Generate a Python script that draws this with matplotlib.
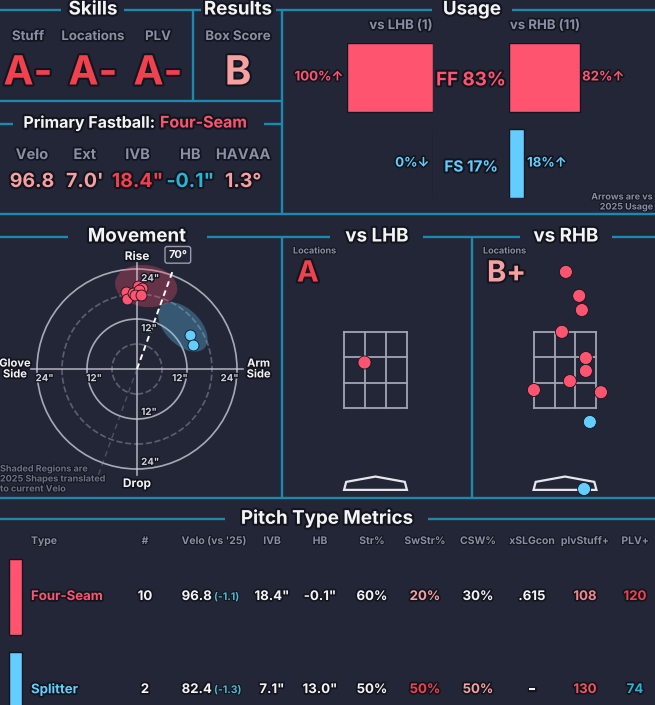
import numpy as np
import matplotlib
matplotlib.use('Agg')
import matplotlib.pyplot as plt
import matplotlib.patheffects as pe
from matplotlib.patches import Ellipse, Circle, Polygon, Rectangle

# ---------------- data ----------------
skill_labels = ['Stuff', 'Locations', 'PLV']
skill_grades = ['A-', 'A-', 'A-']
box_score = 'B'

fb_name = 'Four-Seam'
fb_labels = ['Velo', 'Ext', 'IVB', 'HB', 'HAVAA']
fb_values = ['96.8', "7.0'", '18.4"', '-0.1"', '1.3°']

pitch_codes = ['FF', 'FS']
usage_total = [83, 17]
usage_lhb = [100, 0]
usage_rhb = [82, 18]
arrows_lhb = ['↑', '↓']
arrows_rhb = ['↑', '↑']
n_lhb = 1
n_rhb = 11

# movement (inches)
ff_hb = [-2.6, -2.4, 0.2, 0.7, 0.0, -1.0, 1.2, 0.5, -0.5, 1.0]
ff_ivb = [18.5, 16.8, 19.9, 18.5, 18.2, 18.2, 19.4, 19.0, 17.8, 17.8]
fs_hb = [12.7, 13.4]
fs_ivb = [8.2, 5.8]
arm_angle = 70
shape_x = [2.2, 11.0]
shape_y = [19.9, 10.1]
shape_w = [15.0, 14.5]
shape_h = [10.0, 8.5]
shape_ang = [-8, -45]

# locations (feet)
loc_grades = ['A', 'B+']
lhb_x = [-0.26]
lhb_z = [2.63]
lhb_type = ['FF']
rhb_x = [0.02, 0.32, 0.38, -0.07, 0.47, 0.47, 0.11, -0.70, 0.81, 0.56, 0.43]
rhb_z = [4.66, 4.12, 3.80, 3.31, 2.72, 2.43, 2.20, 2.00, 1.95, 1.28, -0.23]
rhb_type = ['FF'] * 9 + ['FS'] * 2

# table
col_names = ['#', "Velo (vs '25)", 'IVB', 'HB', 'Str%', 'SwStr%', 'CSW%', 'xSLGcon', 'plvStuff+', 'PLV+']
row_names = ['Four-Seam', 'Splitter']
row_count = ['10', '2']
row_velo = ['96.8', '82.4']
row_velo_diff = ['(-1.1)', '(-1.3)']
row_ivb = ['18.4"', '7.1"']
row_hb = ['-0.1"', '13.0"']
row_str = ['60%', '50%']
row_swstr = ['20%', '50%']
row_csw = ['30%', '50%']
row_xslg = ['.615', '–']
row_stuff = ['108', '130']
row_plv = ['120', '74']

# ---------------- style ----------------
W, H = 655, 705
BG = '#232637'
DARK = '#13151e'
LINE = '#1b8aae'
RED = '#f2404f'
SALMON = '#f6a0a2'
FF_COL = '#ff5470'
FS_COL = '#63cdff'
TEAL = '#2bb3d6'
GRAY = '#8a8ea6'
WHITE = '#f4f4f6'
ptype_col = {'FF': FF_COL, 'FS': FS_COL}

plt.rcParams['font.family'] = ['Inter', 'DejaVu Sans']

fig = plt.figure(figsize=(W / 100, H / 100), dpi=100, facecolor=BG)
ax0 = fig.add_axes([0, 0, 1, 1])
ax0.set_xlim(0, W)
ax0.set_ylim(H, 0)
ax0.axis('off')


def px_axes(x0, y0, x1, y1):
    a = fig.add_axes([x0 / W, 1 - y1 / H, (x1 - x0) / W, (y1 - y0) / H])
    a.axis('off')
    a.patch.set_alpha(0)
    return a


def txt(ax, x, y, s, size, color, ha='center', stroke=2.5, weight='bold', **kw):
    return ax.text(x, y, s, fontsize=size, color=color, ha=ha, va='center', fontweight=weight,
                   path_effects=[pe.withStroke(linewidth=stroke, foreground=DARK)], **kw)


def hline(y, segs):
    for a, b in segs:
        ax0.plot([a, b], [y, y], color=LINE, lw=1.7, solid_capstyle='butt')


def vline(x, a, b):
    ax0.plot([x, x], [a, b], color=LINE, lw=1.7, solid_capstyle='butt')


# ---------------- frame ----------------
hline(10, [(0, 61), (124, 201), (276, 432), (512, W)])
hline(101, [(0, 282)])
hline(124, [(0, 13), (264, 282)])
hline(214, [(0, W)])
hline(237, [(0, 68), (207, 330), (423, 520), (612, W)])
hline(498, [(0, W)])
hline(519, [(0, 225), (428, W)])
vline(193, 10, 101)
vline(282, 10, 214)
vline(282, 237, 498)
vline(472, 237, 498)

# ---------------- skills / results ----------------
txt(ax0, 93, 10, 'Skills', 13.5, WHITE, stroke=3)
txt(ax0, 238, 10, 'Results', 13.5, WHITE, stroke=3)
for i, (lab, g) in enumerate(zip(skill_labels, skill_grades)):
    x = 28 + i * 65
    txt(ax0, x, 37, lab, 9.5, GRAY)
    txt(ax0, x, 74, g, 29, RED, stroke=3)
txt(ax0, 238, 37, 'Box Score', 9.5, GRAY)
txt(ax0, 238, 74, box_score, 29, SALMON, stroke=3)

# primary fastball
txt(ax0, 155, 123, 'Primary Fastball:', 11.5, WHITE, ha='right', stroke=3)
txt(ax0, 160, 123, fb_name, 11.5, FF_COL, ha='left', stroke=3)
fb_colors = [SALMON, SALMON, RED, TEAL, SALMON]
for i, (lab, v) in enumerate(zip(fb_labels, fb_values)):
    x = 32 + i * 52.8
    txt(ax0, x, 155, lab, 10.5, GRAY)
    txt(ax0, x, 182, v, 14, fb_colors[i], stroke=3)

# ---------------- usage ----------------
txt(ax0, 472, 10, 'Usage', 13.5, WHITE, stroke=3)
txt(ax0, 401, 26, f'vs LHB ({n_lhb})', 9.5, GRAY)
txt(ax0, 545, 26, f'vs RHB ({n_rhb})', 9.5, GRAY)

axl = px_axes(347, 43, 433, 198)
axr = px_axes(509, 43, 595, 198)
cols = [ptype_col[p] for p in pitch_codes]
axl.barh(range(len(pitch_codes)), usage_lhb, height=0.8, color=cols, edgecolor=DARK, lw=1)
axr.barh(range(len(pitch_codes)), usage_rhb, height=0.8, color=cols, edgecolor=DARK, lw=1)
for a in (axl, axr):
    a.set_ylim(1.4, -0.4)
axl.set_xlim(100, 0)
axr.set_xlim(0, 100)
mid = matplotlib.transforms.blended_transform_factory(ax0.transData, axl.transData)
for i, p in enumerate(pitch_codes):
    c = ptype_col[p]
    txt(axl, usage_lhb[i] + 4, i, f'{usage_lhb[i]}%{arrows_lhb[i]}', 9.5, c, ha='right', clip_on=False)
    txt(axr, usage_rhb[i] + 3, i, f'{usage_rhb[i]}%{arrows_rhb[i]}', 9.5, c, ha='left', clip_on=False)
    fs = 13.5 if usage_total[i] > 50 else 11
    txt(ax0, 471, i + 0.04, f'{p} {usage_total[i]}%', fs, c, stroke=3, transform=mid)
txt(ax0, 653, 197, 'Arrows are vs', 6.5, GRAY, ha='right', stroke=1.5)
txt(ax0, 653, 207, '2025 Usage', 6.5, GRAY, ha='right', stroke=1.5)

# ---------------- movement ----------------
txt(ax0, 137, 237, 'Movement', 13.5, WHITE, stroke=3)
mv = px_axes(27, 259, 247, 479)
mv.set_xlim(-26.4, 26.4)
mv.set_ylim(-26.4, 26.4)
for r, ls, a in [(6, '--', 0.35), (12, '-', 0.8), (18, '--', 0.35), (24, '-', 0.8)]:
    mv.add_patch(Circle((0, 0), r, fill=False, ec='#c9cbd6', lw=1.2, ls=ls, alpha=a))
mv.plot([-25.5, 25.5], [0, 0], color='#c9cbd6', lw=1.2, alpha=0.8)
mv.plot([0, 0], [-25.5, 25.5], color='#c9cbd6', lw=1.2, alpha=0.8)
for i, p in enumerate(pitch_codes):
    mv.add_patch(Ellipse((shape_x[i], shape_y[i]), shape_w[i], shape_h[i], angle=shape_ang[i],
                         color=ptype_col[p], alpha=0.3, lw=0))
ang = np.radians(arm_angle)
mv.plot([0, 25 * np.cos(ang)], [0, 25 * np.sin(ang)], color='white', lw=1.4, ls=(0, (3, 2)))
mv.plot([0, -29.5 * np.cos(ang)], [0, -29.5 * np.sin(ang)], color='#8a8ea6', lw=1, ls=(0, (4, 3)), alpha=0.4)
mv.scatter(ff_hb, ff_ivb, s=62, color=FF_COL, edgecolor=DARK, lw=0.6, zorder=5)
mv.scatter(fs_hb, fs_ivb, s=62, color=FS_COL, edgecolor=DARK, lw=0.6, zorder=5)
for v in (-22.2, -10.3, 10.3, 22.2):
    txt(mv, v, -2.2, f'{abs(v) > 20 and 24 or 12}"', 7, '#d0d2dc', stroke=2)
for v, lab in [(21.8, 24), (9.8, 12), (-10.3, 12), (-22.3, 24)]:
    txt(mv, 1, v, f'{lab}"', 7, '#d0d2dc', ha='left', stroke=2)
txt(mv, 0, 26.9, 'Rise', 8.5, WHITE)
txt(mv, 0, -27.6, 'Drop', 8.5, WHITE)
txt(ax0, 15, 369, 'Glove\nSide', 8, WHITE, linespacing=1.1)
txt(mv, 29.2, 0, 'Arm\nSide', 8, WHITE, linespacing=1.1)
mv.text(9.8, 27.4, f'{arm_angle}°', fontsize=8, color=WHITE, fontweight='bold', ha='center', va='center',
        bbox=dict(boxstyle='round,pad=0.3,rounding_size=0.2', fc=BG, ec='#9a9db0', lw=1))
for k, s in enumerate(['Shaded Regions are', '2025 Shapes translated', 'to current Velo']):
    txt(ax0, 0, 469 + k * 10, s, 6.5, '#6e7288', ha='left', stroke=1.5)

# ---------------- locations ----------------
S = 44.4


def loc_axes(cx):
    a = px_axes(cx - 2 * S, 370 - (5.2 - 2.45) * S, cx + 2 * S, 370 + (2.45 + 0.6) * S)
    a.set_xlim(-2, 2)
    a.set_ylim(-0.6, 5.2)
    zx = np.linspace(-0.708, 0.708, 4)
    zz = np.linspace(1.6, 3.3, 4)
    for x in zx:
        a.plot([x, x], [zz[0], zz[-1]], color='#a3a5b4', lw=1.3)
    for z in zz:
        a.plot([zx[0], zx[-1]], [z, z], color='#a3a5b4', lw=1.3)
    plate = [(-0.708, -0.25), (-0.66, -0.07), (0, 0.05), (0.66, -0.07), (0.708, -0.25)]
    a.add_patch(Polygon(plate, closed=True, fc=BG, ec='#e6e7ee', lw=1.6))
    return a


txt(ax0, 377, 237, 'vs LHB', 13.5, WHITE, stroke=3)
txt(ax0, 566, 237, 'vs RHB', 13.5, WHITE, stroke=3)
al = loc_axes(375.5)
ar = loc_axes(565)
al.scatter(lhb_x, lhb_z, s=88, c=[ptype_col[t] for t in lhb_type], edgecolor=DARK, lw=0.6, zorder=5, clip_on=False)
ar.scatter(rhb_x, rhb_z, s=88, c=[ptype_col[t] for t in rhb_type], edgecolor=DARK, lw=0.6, zorder=5, clip_on=False)
for x0, g, c in [(293, loc_grades[0], RED), (483, loc_grades[1], SALMON)]:
    txt(ax0, x0, 251, 'Locations', 6.5, GRAY, ha='left', stroke=1.5)
    txt(ax0, x0 + 4, 274, g, 21, c, ha='left', stroke=3)

# ---------------- table ----------------
txt(ax0, 327, 519, 'Pitch Type Metrics', 13.5, WHITE, stroke=3)
col_x = [145, 214, 272, 320, 372, 425, 478, 532, 585, 635]
txt(ax0, 31, 541, 'Type', 7.5, GRAY, ha='left', stroke=1.5)
for x, c in zip(col_x, col_names):
    txt(ax0, x, 541, c, 7.5, GRAY, stroke=1.5)

row_y = [597, 690]
row_col = [FF_COL, FS_COL]
cell_colors = [
    [WHITE, None, WHITE, WHITE, WHITE, SALMON, WHITE, WHITE, '#f4868c', RED],
    [WHITE, None, WHITE, WHITE, WHITE, RED, SALMON, WHITE, '#f3525f', TEAL],
]
for i, y in enumerate(row_y):
    ax0.add_patch(Rectangle((9, y - 38), 13, 76, fc=row_col[i], ec=DARK, lw=1))
    txt(ax0, 31, y, row_names[i], 9.5, row_col[i], ha='left')
    vals = [row_count[i], None, row_ivb[i], row_hb[i], row_str[i], row_swstr[i],
            row_csw[i], row_xslg[i], row_stuff[i], row_plv[i]]
    for j, v in enumerate(vals):
        if v is None:
            continue
        txt(ax0, col_x[j], y, v, 9.5, cell_colors[i][j])
    txt(ax0, 212, y, row_velo[i], 9.5, WHITE, ha='right')
    txt(ax0, 214, y, row_velo_diff[i], 7.5, '#4fb8d2', ha='left', stroke=1.5)

fig.savefig('out.png', dpi=100, facecolor=BG)
